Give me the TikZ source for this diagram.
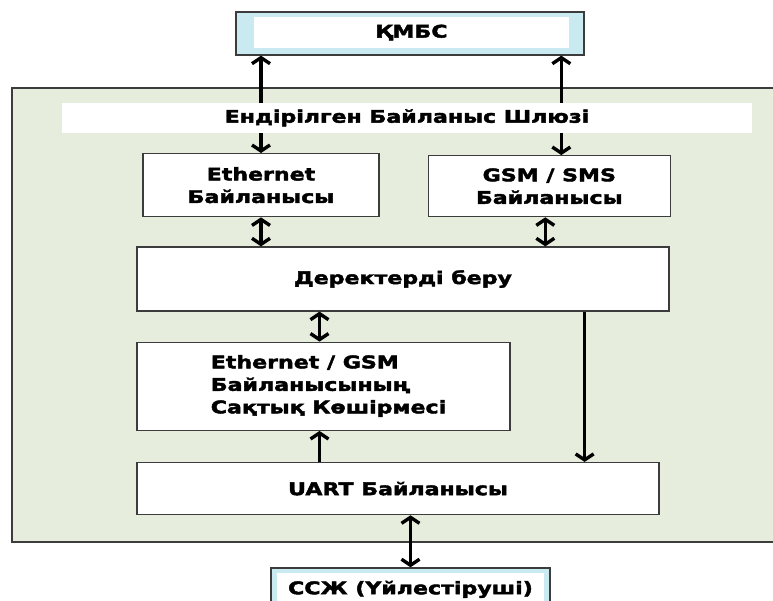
\documentclass[tikz,border=0pt]{standalone}
\usepackage{fontspec}
\setmainfont{DejaVu Sans Bold}[FakeStretch=1.27, FakeBold=2.5]
\usetikzlibrary{arrows.meta}
\usetikzlibrary{positioning}
\usepackage{xcolor}
\definecolor{panelgreen}{RGB}{231,237,220}
\definecolor{lightcyan}{RGB}{200,234,240}
\definecolor{edgegray}{RGB}{60,60,60}

\begin{document}
\begin{tikzpicture}[x=1pt,y=-1pt]
		\tikzstyle{block} = [rectangle, draw=edgegray, line width=1.3pt, fill=white,
		align=center, inner sep=0pt, font=\fontsize{17.4}{22.5}\selectfont]
		\tikzstyle{outerblock} = [rectangle, draw=edgegray, line width=1.3pt, fill=lightcyan, inner sep=0pt]
		\tikzstyle{innerblock} = [rectangle, fill=white, inner sep=0pt,
		font=\fontsize{17.4}{22.5}\selectfont]
		\tikzstyle{oneway} = [draw, line width=3.4pt, -{Straight Barb[length=6pt, width=18pt]}]
		\tikzstyle{twoway} = [draw, line width=3.4pt, {Straight Barb[length=6pt, width=18pt]}-{Straight Barb[length=6pt, width=18pt]}]
		\clip (0,0) rectangle (773,600);
		\fill [white] (0,0) rectangle (773,600);

		% panel
		\draw [fill=panelgreen, draw=edgegray, line width=1.3pt] (12,88) rectangle (800,542);

		% KMBS
		\node [outerblock, minimum width=348pt, minimum height=43pt] (kmbs) at (410,33.5) {};
		\node [innerblock, minimum width=315pt, minimum height=31pt] (kmbsin) at (411.5,32.5) {ҚМБС};

		% gateway
		\node [innerblock, below=47pt of kmbs.south, xshift=-3pt, minimum width=690pt, minimum height=30pt] (gate) {Ендірілген Байланыс Шлюзі};

		% Ethernet / GSM
		\node [block, below=20pt of gate.south, xshift=-146pt, minimum width=236pt, minimum height=63pt] (eth) {Ethernet\\Байланысы};
		\node [block, right=48pt of eth.east, yshift=-1pt, minimum width=242pt, minimum height=61pt] (gsm) {GSM / SMS\\Байланысы};

		% data transfer
		\node [block, below=29pt of eth.south, xshift=142pt, minimum width=532pt, minimum height=64pt] (data) {Деректерді беру};

		% backup
		\node [block, below=30pt of data.south, xshift=-79.5pt, minimum width=373pt, minimum height=88pt] (backup) {\hspace*{10pt}\begin{tabular}{@{}l@{}}Ethernet / GSM\\Байланысының\\Сақтық Көшірмесі\end{tabular}};

		% UART
		\node [block, below=31pt of backup.south, xshift=74.5pt, minimum width=522pt, minimum height=52pt] (uart) {UART Байланысы};

		% SSJ
		\node [outerblock, below=52pt of uart.south, xshift=12.5pt, minimum width=279pt, minimum height=44pt] (ssj) {};
		\node [innerblock, below=6pt of ssj.north, minimum width=267pt, minimum height=32pt] (ssjin) {ССЖ (Үйлестіруші)};

		% arrows
		\draw [oneway] (gate.north -| eth) -- (kmbs.south -| eth);
		\draw [oneway] ([xshift=12pt]gate.north -| gsm) -- ([xshift=12pt]kmbs.south -| gsm);
		\draw [oneway] (gate.south -| eth) -- (eth.north);
		\draw [oneway] ([xshift=12pt]gate.south -| gsm) -- ([xshift=12pt]gsm.north);
		\draw [twoway] (eth.south) -- (data.north -| eth);
		\draw [twoway] ([xshift=-4pt]gsm.south) -- ([xshift=-4pt]data.north -| gsm);
		\draw [twoway] ([xshift=-4pt]data.south -| backup) -- ([xshift=-4pt]backup.north);
		\draw [oneway] ([xshift=-4pt]uart.north -| backup) -- ([xshift=-4pt]backup.south);
		\draw [oneway] ([xshift=-85pt]data.south east) -- ([xshift=-85pt]data.south east |- uart.north);
		\draw [twoway] (uart.south -| ssj) -- (ssj.north);
	\end{tikzpicture}
\end{document}
